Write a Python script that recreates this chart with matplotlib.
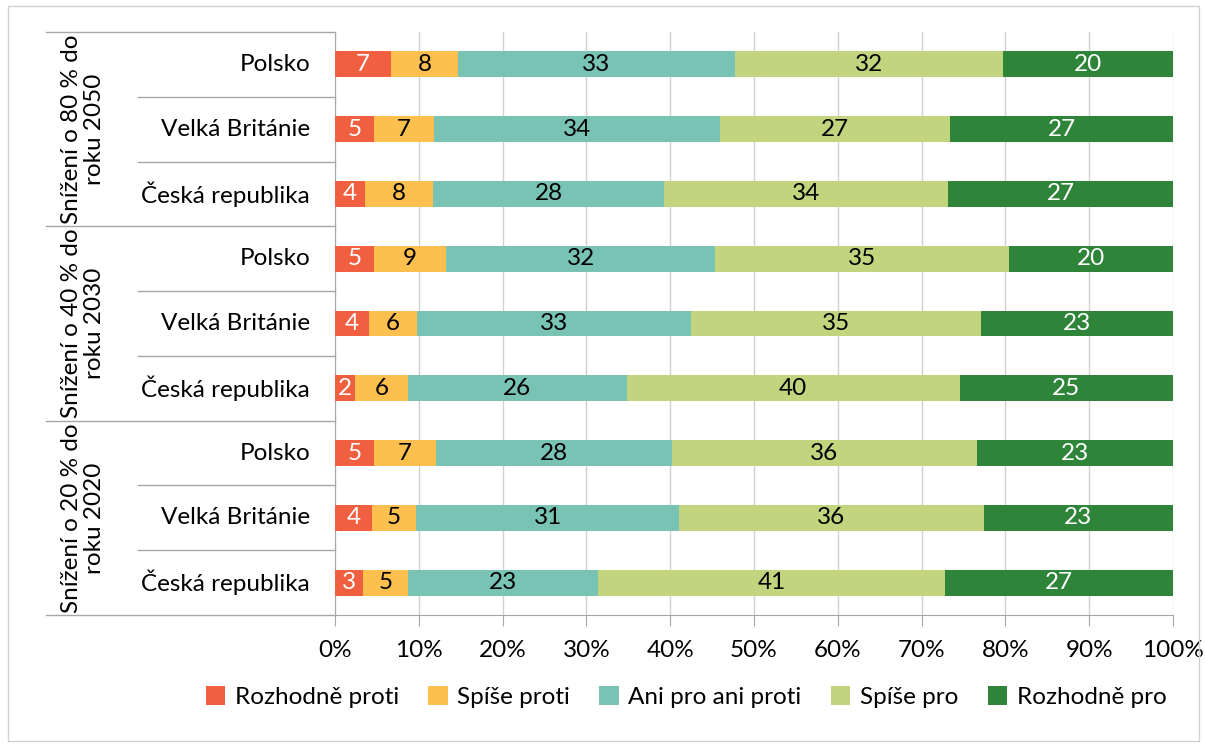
import matplotlib.pyplot as plt
import numpy as np
from matplotlib.patches import Rectangle

plt.rcParams['font.family'] = ['Lato', 'DejaVu Sans']

# Data (rows from top to bottom)
countries = ['Polsko', 'Velká Británie', 'Česká republika'] * 3
groups = ['Snížení o 80 % do\nroku 2050', 'Snížení o 40 % do\nroku 2030', 'Snížení o 20 % do\nroku 2020']
series_names = ['Rozhodně proti', 'Spíše proti', 'Ani pro ani proti', 'Spíše pro', 'Rozhodně pro']
rozhodne_proti = [6.7, 4.6, 3.6, 4.6, 4.1, 2.4, 4.6, 4.4, 3.3]
spise_proti = [8.0, 7.2, 8.1, 8.7, 5.7, 6.3, 7.4, 5.3, 5.4]
ani_pro_ani_proti = [33.0, 34.2, 27.6, 32.1, 32.7, 26.0, 28.2, 31.4, 22.7]
spise_pro = [32.0, 27.4, 33.9, 35.1, 34.6, 39.6, 36.4, 36.4, 41.4]
rozhodne_pro = [20.3, 26.6, 26.8, 19.6, 22.9, 25.4, 23.4, 22.6, 27.2]

colors = ['#F05F40', '#FDBF4D', '#78C3B3', '#C3D47E', '#2E8539']
text_colors = ['white', 'black', 'black', 'black', 'white']

data = np.array([rozhodne_proti, spise_proti, ani_pro_ani_proti, spise_pro, rozhodne_pro])
share = data / data.sum(axis=0) * 100

FS = 17.5
W, H = 1205, 747
fig = plt.figure(figsize=(W / 100, H / 100), dpi=100)
fig.patches.append(Rectangle((8 / W, 6 / H), (1199 - 8) / W, (741 - 6) / H,
                             transform=fig.transFigure, fill=False,
                             edgecolor='#d0d0d0', linewidth=1))

x0, x1, ytop, ybot = 335, 1173, 32, 615
ax = fig.add_axes([x0 / W, (H - ybot) / H, (x1 - x0) / W, (ybot - ytop) / H])

y = np.arange(len(countries))
left = np.zeros(len(countries))
for i in range(5):
    ax.barh(y, share[i], left=left, height=0.4, color=colors[i],
            label=series_names[i], zorder=3)
    for j in range(len(y)):
        ax.text(left[j] + share[i][j] / 2, y[j], f'{data[i][j]:.0f}',
                ha='center', va='center', fontsize=FS, color=text_colors[i], zorder=4)
    left += share[i]

ax.set_xlim(0, 100)
ax.set_ylim(len(countries) - 0.5, -0.5)
ax.set_xticks(np.arange(0, 101, 10))
ax.set_xticklabels([f'{v}%' for v in range(0, 101, 10)], fontsize=FS)
ax.tick_params(axis='x', length=8, color='#a6a6a6', pad=10)
ax.set_yticks([])
ax.grid(axis='x', color='#d0d0d0', linewidth=1, zorder=0)
for s in ['top', 'right']:
    ax.spines[s].set_visible(False)
for s in ['left', 'bottom']:
    ax.spines[s].set_color('#a6a6a6')

# category labels and separators on the left
tr = ax.get_yaxis_transform()
gx = (46 - x0) / (x1 - x0)
cx = (138 - x0) / (x1 - x0)
for j, c in enumerate(countries):
    ax.text((310 - x0) / (x1 - x0), y[j], c, transform=tr, ha='right',
            va='center', fontsize=FS)
for k in range(4):
    ax.plot([gx, 0], [k * 3 - 0.5] * 2, transform=tr, color='#a6a6a6',
            linewidth=1, clip_on=False)
for k in range(3):
    for m in (1, 2):
        ax.plot([cx, 0], [k * 3 + m - 0.5] * 2, transform=tr, color='#a6a6a6',
                linewidth=1, clip_on=False)
    ax.text((83 - x0) / (x1 - x0), k * 3 + 1, groups[k], transform=tr,
            rotation=90, ha='center', va='center', multialignment='center',
            fontsize=FS, linespacing=1.1)

fig.legend(loc='center', bbox_to_anchor=(686 / W, (H - 697) / H), ncol=5,
           frameon=False, fontsize=FS, handlelength=0.8, handleheight=0.8,
           handletextpad=0.4, columnspacing=1.2)

fig.savefig('out.png', dpi=100)
